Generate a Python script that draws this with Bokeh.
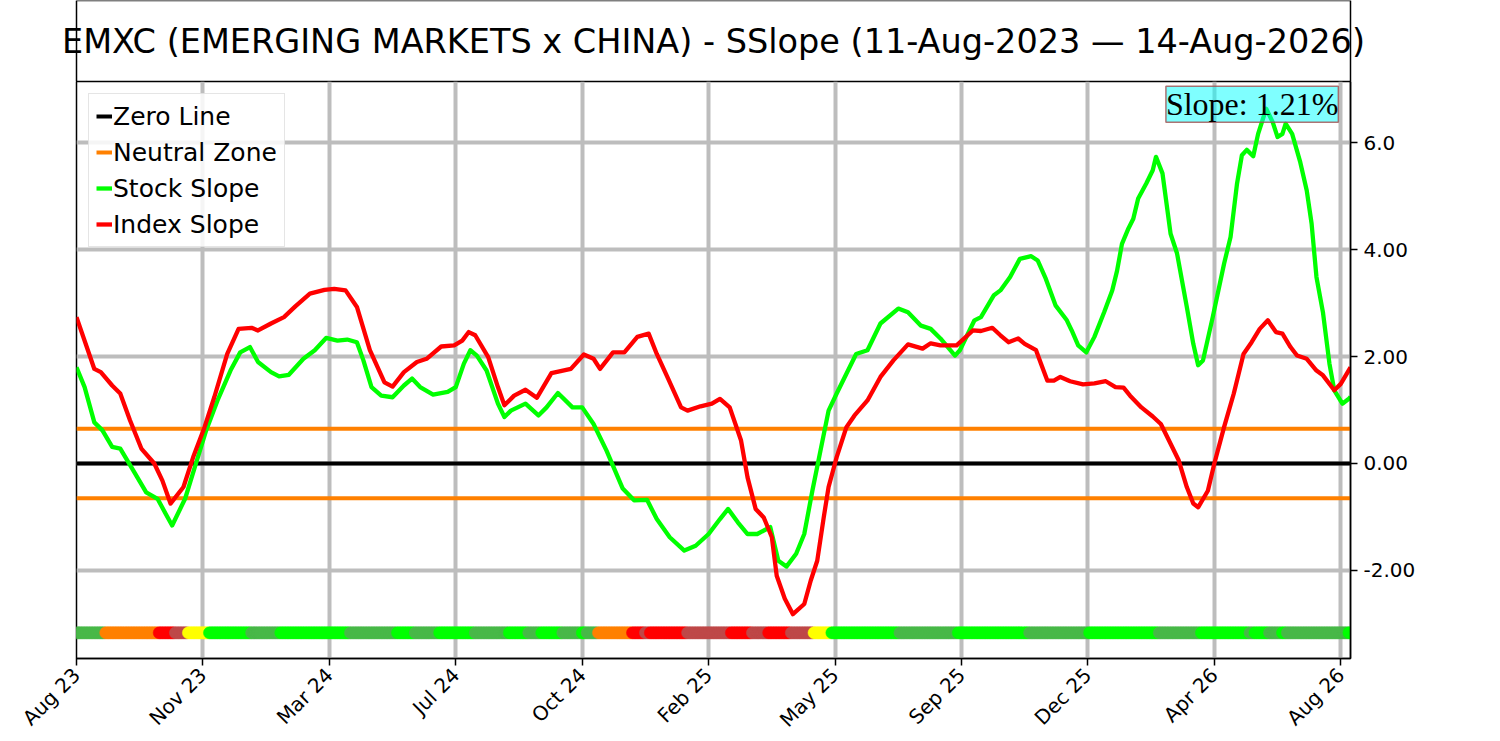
import math
from bokeh.plotting import figure
from bokeh.models import Range1d, FixedTicker, Legend, LegendItem, Label, ColumnDataSource
from bokeh.layouts import column, row
from bokeh.embed import file_html
from bokeh.resources import INLINE

# ---------------- data ----------------
TITLE = "EMXC (EMERGING MARKETS x CHINA) - SSlope (11-Aug-2023 \u2014 14-Aug-2026)"
SLOPE_TEXT = "Slope: 1.21%"
N_POINTS = 787  # trading days in the window

X_TICKS = [0, 78, 156, 234, 312, 390, 468, 546, 624, 702, 780]
X_TICK_LABELS = ["Aug 23", "Nov 23", "Mar 24", "Jul 24", "Oct 24", "Feb 25",
                 "May 25", "Sep 25", "Dec 25", "Apr 26", "Aug 26"]
Y_TICKS = [-2, 0, 2, 4, 6]
Y_TICK_LABELS = ["-2.00", "0.00", "2.00", "4.00", "6.0"]

ZERO_LEVEL = 0.0
NEUTRAL_BAND = [0.65, -0.65]
STRIP_LEVEL = -3.17

# (trading-day index, slope %)
STOCK_SLOPE = [
    (0, 1.80), (5, 1.43), (11, 0.77), (16, 0.62), (22, 0.31), (27, 0.28), (35, -0.13),
    (43, -0.54), (50, -0.66), (55, -0.94), (59, -1.16), (67, -0.66), (73, -0.07),
    (80, 0.62), (87, 1.18), (95, 1.74), (101, 2.08), (107, 2.18), (112, 1.90),
    (120, 1.71), (125, 1.63), (131, 1.66), (140, 1.96), (147, 2.12), (154, 2.35),
    (161, 2.30), (167, 2.32), (173, 2.27), (177, 1.93), (182, 1.43), (188, 1.27),
    (195, 1.24), (202, 1.46), (207, 1.59), (212, 1.43), (220, 1.29), (229, 1.34),
    (234, 1.43), (239, 1.87), (243, 2.12), (247, 2.02), (253, 1.74), (260, 1.12),
    (264, 0.87), (268, 0.99), (277, 1.12), (285, 0.90), (290, 1.05), (297, 1.32),
    (306, 1.05), (312, 1.05), (319, 0.74), (327, 0.24), (337, -0.47), (344, -0.69),
    (352, -0.68), (358, -1.04), (366, -1.38), (375, -1.63), (382, -1.54), (390, -1.32),
    (397, -1.04), (402, -0.85), (408, -1.10), (414, -1.32), (420, -1.32), (428, -1.19),
    (433, -1.82), (438, -1.93), (444, -1.69), (449, -1.32), (454, -0.51), (459, 0.24),
    (464, 0.99), (469, 1.31), (475, 1.68), (481, 2.05), (488, 2.12), (496, 2.62),
    (507, 2.90), (513, 2.83), (521, 2.58), (527, 2.52), (533, 2.34), (542, 2.02),
    (545, 2.12), (554, 2.68), (558, 2.74), (566, 3.15), (570, 3.24), (576, 3.49),
    (582, 3.83), (589, 3.88), (593, 3.80), (598, 3.46), (604, 2.96), (611, 2.68),
    (614, 2.49), (618, 2.21), (623, 2.08), (628, 2.37), (634, 2.83), (639, 3.24),
    (642, 3.61), (645, 4.11), (649, 4.40), (652, 4.58), (655, 4.96), (660, 5.24),
    (664, 5.49), (666, 5.74), (670, 5.43), (675, 4.30), (679, 3.93), (685, 2.93),
    (689, 2.24), (692, 1.84), (695, 1.93), (701, 2.74), (708, 3.74), (712, 4.24),
    (716, 5.24), (719, 5.77), (722, 5.87), (726, 5.75), (729, 6.17), (734, 6.64),
    (738, 6.39), (741, 6.11), (744, 6.17), (746, 6.36), (750, 6.17), (755, 5.64),
    (759, 5.11), (762, 4.49), (765, 3.49), (769, 2.83), (773, 1.87), (776, 1.37),
    (781, 1.12), (785, 1.21), (786, 1.25),
]

INDEX_SLOPE = [
    (0, 2.74), (11, 1.77), (15, 1.71), (22, 1.46), (27, 1.31), (33, 0.81), (40, 0.28),
    (48, 0.00), (53, -0.32), (58, -0.75), (66, -0.44), (72, 0.12), (79, 0.68),
    (85, 1.24), (93, 2.05), (100, 2.52), (108, 2.54), (112, 2.49), (120, 2.62),
    (128, 2.74), (135, 2.94), (144, 3.18), (153, 3.25), (159, 3.27), (166, 3.24),
    (173, 2.93), (181, 2.12), (190, 1.52), (195, 1.44), (202, 1.71), (210, 1.90),
    (216, 1.96), (225, 2.19), (233, 2.21), (238, 2.30), (242, 2.46), (246, 2.40),
    (254, 1.99), (260, 1.43), (264, 1.09), (270, 1.27), (277, 1.38), (284, 1.23),
    (293, 1.69), (305, 1.77), (313, 2.04), (319, 1.96), (323, 1.77), (331, 2.08),
    (338, 2.08), (346, 2.37), (353, 2.43), (358, 2.05), (365, 1.59), (373, 1.05),
    (377, 0.99), (385, 1.07), (392, 1.12), (397, 1.21), (403, 1.05), (410, 0.43),
    (414, -0.26), (419, -0.85), (424, -1.01), (429, -1.38), (432, -2.10), (437, -2.53),
    (442, -2.82), (449, -2.63), (453, -2.19), (457, -1.82), (461, -1.01), (464, -0.44),
    (469, 0.12), (475, 0.68), (480, 0.90), (488, 1.18), (496, 1.62), (504, 1.93),
    (513, 2.23), (522, 2.15), (527, 2.25), (533, 2.21), (543, 2.21), (553, 2.49),
    (558, 2.48), (565, 2.54), (570, 2.40), (575, 2.27), (581, 2.34), (585, 2.24),
    (592, 2.12), (595, 1.87), (599, 1.55), (603, 1.55), (607, 1.62), (613, 1.54),
    (621, 1.48), (628, 1.50), (635, 1.54), (641, 1.43), (646, 1.42), (650, 1.27),
    (657, 1.05), (664, 0.88), (669, 0.74), (675, 0.37), (680, 0.06), (685, -0.44),
    (689, -0.75), (692, -0.82), (698, -0.51), (702, 0.00), (708, 0.68), (714, 1.31),
    (720, 2.05), (725, 2.27), (730, 2.52), (735, 2.68), (740, 2.46), (744, 2.43),
    (749, 2.18), (753, 2.02), (759, 1.96), (765, 1.74), (769, 1.65), (776, 1.37),
    (780, 1.49), (786, 1.80),
]

# signal strip: (first trading-day index of run, state)
STRIP_RUNS = [
    (0, "mid"), (18, "orange"), (51, "red"), (61, "brown"), (69, "yellow"), (82, "lime"),
    (108, "mid"), (126, "lime"), (169, "mid"), (198, "lime"), (209, "mid"), (224, "lime"),
    (246, "mid"), (267, "lime"), (279, "mid"), (287, "lime"), (300, "mid"), (312, "lime"),
    (315, "mid"), (322, "orange"), (343, "red"), (351, "brown"), (354, "red"),
    (377, "brown"), (404, "red"), (417, "brown"), (427, "red"), (441, "brown"),
    (455, "yellow"), (466, "lime"), (508, "mid"), (544, "lime"), (588, "mid"),
    (625, "lime"), (668, "mid"), (694, "lime"), (724, "mid"), (727, "lime"),
    (736, "mid"), (744, "lime"), (747, "mid"), (785, "lime"),
]

STATE_COLORS = {"mid": "#48b848", "lime": "#00ff00", "orange": "#ff8000",
                "red": "#ff0000", "brown": "#be4848", "yellow": "#ffff00"}

# ---------------- build ----------------
FONT = "DejaVu Sans"
last = N_POINTS - 1
FRAME_W = 1274
px_per_day = FRAME_W / last

p = figure(frame_width=FRAME_W, frame_height=577,
           x_range=Range1d(0, last), y_range=Range1d(-3.65, 7.15),
           y_axis_location="right", toolbar_location=None, output_backend="svg",
           min_border_left=76, min_border_top=0, min_border_right=100, min_border_bottom=80)
p.background_fill_color = "white"
p.outline_line_color = "black"
p.outline_line_width = 1.5

p.xaxis.ticker = FixedTicker(ticks=X_TICKS)
p.xaxis.major_label_overrides = dict(zip(X_TICKS, X_TICK_LABELS))
p.xaxis.major_label_orientation = math.pi / 4
p.yaxis.ticker = FixedTicker(ticks=Y_TICKS)
p.yaxis.major_label_overrides = dict(zip(Y_TICKS, Y_TICK_LABELS))
for ax in (p.xaxis, p.yaxis):
    ax.axis_line_color = "black"
    ax.axis_line_width = 1.5
    ax.major_tick_line_color = "black"
    ax.major_tick_line_width = 1.5
    ax.major_tick_out = 7
    ax.major_tick_in = 0
    ax.minor_tick_line_color = None
    ax.major_label_text_font = FONT
    ax.major_label_text_font_size = "20px"
    ax.major_label_text_color = "black"
    ax.major_label_standoff = 6

p.grid.grid_line_color = "#bdbdbd"
p.grid.grid_line_width = 4

r_zero = p.line(x=[0, last], y=[ZERO_LEVEL, ZERO_LEVEL], line_color="black", line_width=4)
r_neutral = p.multi_line(xs=[[0, last] for _ in NEUTRAL_BAND],
                         ys=[[v, v] for v in NEUTRAL_BAND],
                         line_color="#ff8000", line_width=4)
r_stock = p.line(x=[a for a, _ in STOCK_SLOPE], y=[b for _, b in STOCK_SLOPE],
                 line_color="#00ff00", line_width=4.3, line_join="round")
r_index = p.line(x=[a for a, _ in INDEX_SLOPE], y=[b for _, b in INDEX_SLOPE],
                 line_color="#ff0000", line_width=4.3, line_join="round")

# expand strip runs to one dot per trading day
strip_x, strip_c = [], []
for k, (start, state) in enumerate(STRIP_RUNS):
    end = STRIP_RUNS[k + 1][0] if k + 1 < len(STRIP_RUNS) else N_POINTS
    for i in range(start, end):
        strip_x.append(i)
        strip_c.append(STATE_COLORS[state])
src = ColumnDataSource(dict(x=strip_x, y=[STRIP_LEVEL] * len(strip_x), c=strip_c))
p.scatter(x="x", y="y", source=src, marker="circle", size=12,
          fill_color="c", line_color="c", line_width=0.5)

legend = Legend(items=[LegendItem(label="Zero Line", renderers=[r_zero]),
                       LegendItem(label="Neutral Zone", renderers=[r_neutral]),
                       LegendItem(label="Stock Slope", renderers=[r_stock]),
                       LegendItem(label="Index Slope", renderers=[r_index])],
                location="top_left", margin=12, padding=7, spacing=6,
                glyph_width=16, glyph_height=30, label_height=30, label_standoff=1,
                label_text_font=FONT, label_text_font_size="25px", label_text_color="black",
                border_line_color="#cccccc", border_line_width=1.5,
                background_fill_color="white", background_fill_alpha=0.85)
p.add_layout(legend)

slope_label = Label(x=last - 7.5, y=7.06, text=SLOPE_TEXT, text_align="right",
                    text_baseline="top", text_font="Liberation Serif",
                    text_font_size="32px", text_color="black", text_line_height=1.0,
                    background_fill_color="#00ffff", background_fill_alpha=0.5,
                    border_line_color="#a05050", border_line_alpha=0.8,
                    border_line_width=1.5, padding=0)
p.add_layout(slope_label)

# title panel: a wider frame so the title text may overhang the boxed area
T_LEFT, T_RIGHT = 40, 50
t = figure(frame_width=FRAME_W + (76 - T_LEFT) + T_RIGHT, frame_height=81,
           x_range=Range1d(-(76 - T_LEFT) / px_per_day, last + T_RIGHT / px_per_day),
           y_range=Range1d(0, 1),
           x_axis_type=None, y_axis_type=None, toolbar_location=None, output_backend="svg",
           min_border_left=T_LEFT, min_border_right=50, min_border_top=0, min_border_bottom=0)
t.outline_line_color = None
t.quad(left=[0], right=[last], bottom=[0], top=[1], fill_color=None,
       line_color="black", line_width=1.5)
t.add_layout(Label(x=last / 2, y=0.5, text=TITLE, text_align="center", text_baseline="middle",
                   text_font=FONT, text_font_size="33.5px", text_color="black"))

layout = column(row(t, spacing=0), p, spacing=0)
open("out.html", "w").write(file_html(layout, INLINE))
